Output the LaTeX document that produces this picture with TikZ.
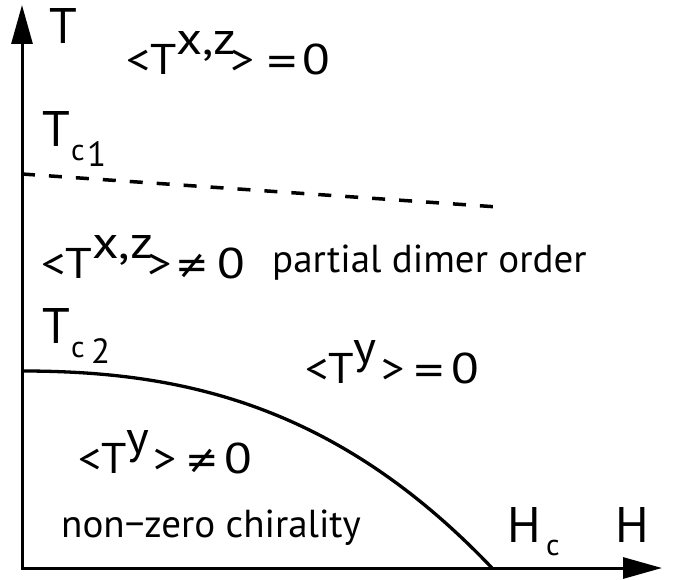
\documentclass[tikz,border=0pt]{standalone}
\usepackage{fontspec}
\usepackage{graphicx}
\setmainfont{PT Sans}
\newfontfamily\symf{DejaVu Sans}
\usetikzlibrary{arrows.meta}
\newcommand\rsup[1]{\raisebox{20pt}{\fontsize{46}{50}\selectfont #1}}
\newcommand\fml{\fontsize{43}{50}\selectfont}
\newcommand\axl{\fontsize{50}{56}\selectfont}
\newcommand\txl{\fontsize{39}{44}\selectfont}
\newcommand\subl{\fontsize{30}{34}\selectfont}
\newcommand\eqsym{{\symf\fontsize{40}{44}\selectfont =}}
\newcommand\nesym{{\symf\fontsize{40}{44}\selectfont ≠}}
\newcommand\zero{{\fml\scalebox{1.18}[1]{0}}}
\newcommand\wide[2]{\scalebox{#1}[1]{#2}}
\begin{document}
\begin{tikzpicture}[x=1pt,y=-1pt,
  axis/.style={line width=3pt, line join=miter, {Triangle[length=39pt,width=21pt]}-{Triangle[length=39pt,width=21pt]}},
  lbl/.style={inner sep=0pt, anchor=base west},
  sym/.style={inner sep=0pt, anchor=base},
  phase/.style={line width=3.3pt},
  trans/.style={line width=3.5pt, dash pattern=on 13pt off 14pt}]
\useasboundingbox (0,0) rectangle (677,580);
\coordinate (O) at (22,568);
\coordinate (Ttip) at (22,5);
\coordinate (Htip) at (662,568);
\coordinate (Tc1) at (22,174);
\coordinate (D) at (498,207);
\coordinate (Tc2) at (22,371);
\coordinate (Hc) at (492,568);
\draw[axis] (Ttip) -- (O) -- (Htip);
\draw[trans] (Tc1) -- (D);
\draw[phase] (Tc2) .. controls (179,371) and (335,403) .. (Hc);
% axis labels
\node[lbl] (lT) at (49,44) {\axl T};
\node[lbl] (lTc1) at (42,147) {\axl T};
\node[lbl] (lTc1c) at (71,161) {\subl c};
\node[lbl] (lTc1n) at (87,167) {\fontsize{35}{40}\selectfont 1};
\node[lbl] (lTc2) at (42,343) {\axl T};
\node[lbl] (lTc2c) at (71,357) {\subl c};
\node[lbl] (lTc2n) at (91,363) {\fontsize{35}{40}\selectfont 2};
\node[lbl] (lHc) at (507,542) {\axl H};
\node[lbl] (lHcc) at (546,555) {\subl c};
\node[lbl] (lH) at (615,542) {\axl H};
% phase labels
\node[lbl] (p1) at (126,75) {\wide{1.1}{\fml <T\rsup{x,z}\kern-5pt>}};
\node[sym] (p1eq) at (282.5,75) {\eqsym};
\node[sym] (p1z) at (316.5,75) {\zero};
\node[lbl] (p2) at (41,278) {\wide{1.12}{\fml <T\rsup{x,z}\kern-5pt>}};
\node[sym] (p2ne) at (192,278) {\nesym};
\node[sym] (p2z) at (231,278) {\zero};
\node[lbl] (p3) at (272,272) {\txl partial dimer order};
\node[lbl] (p4) at (305,383) {\wide{1.07}{\fml <T\rsup{y}\kern4pt>}};
\node[sym] (p4eq) at (429,383) {\eqsym};
\node[sym] (p4z) at (465,383) {\zero};
\node[lbl] (p5) at (78,473) {\wide{1.06}{\fml <T\rsup{y}\kern4pt>}};
\node[sym] (p5ne) at (202.5,473) {\nesym};
\node[sym] (p5z) at (238,473) {\zero};
\node[lbl] (p6) at (61,537) {\txl non−zero chirality};
\end{tikzpicture}
\end{document}
